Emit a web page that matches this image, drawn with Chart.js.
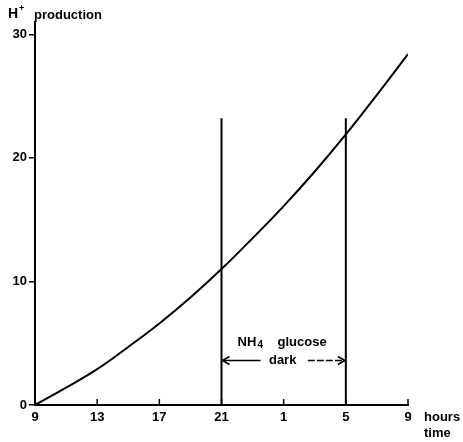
<!DOCTYPE html>
<html>
<head>
<meta charset="utf-8">
<script src="https://cdn.jsdelivr.net/npm/chart.js@4/dist/chart.umd.min.js"></script>
<style>
  html, body { margin: 0; padding: 0; background: #fff; }
  #wrap { width: 463px; height: 442px; }
</style>
</head>
<body>
<div id="wrap"><canvas id="chart-area" width="463" height="442"></canvas></div>
<script>
'use strict';

// hours elapsed since 9 o'clock, and the H+ production
const elapsed = [0, 2, 4, 6, 8, 10, 12, 14, 16, 18, 20, 22, 24];
const production = [0, 1.4, 2.9, 4.7, 6.6, 8.7, 11.0, 13.5, 16.1, 18.9, 21.9, 25.1, 28.4];
const hourLabels = ['9', '13', '17', '21', '1', '5', '9'];
const yTicks = [0, 10, 20, 30];
const markerHours = [12, 20];
const markerTop = 23.2;
const arrowLevel = 3.6;

const FONT = 'bold 13px "Liberation Sans", Arial, sans-serif';

var markerSets = markerHours.map((h) => ({
  data: [{x: h, y: 0}, {x: h, y: markerTop}],
  borderColor: '#000',
  borderWidth: 2,
  pointRadius: 0,
  tension: 0
}));

var extras = {
  id: 'extras',
  afterDatasetsDraw(chart) {
    const ctx = chart.ctx;
    const xs = chart.scales.x, ys = chart.scales.y;
    const y0 = ys.getPixelForValue(0);
    ctx.save();
    ctx.strokeStyle = '#000';
    ctx.fillStyle = '#000';
    // x ticks pointing up into the plot
    ctx.lineWidth = 1.5;
    for (const t of xs.ticks) {
      const px = xs.getPixelForValue(t.value);
      ctx.beginPath();
      ctx.moveTo(px, y0);
      ctx.lineTo(px, y0 - 6);
      ctx.stroke();
    }
    // arrows between the two markers
    const xl = xs.getPixelForValue(markerHours[0]);
    const xr = xs.getPixelForValue(markerHours[1]);
    const ya = ys.getPixelForValue(arrowLevel);
    ctx.lineWidth = 1.5;
    ctx.beginPath();
    ctx.moveTo(xl + 1, ya);
    ctx.lineTo(xl + 39, ya);
    ctx.stroke();
    ctx.beginPath();
    ctx.moveTo(xl + 1, ya);
    ctx.lineTo(xl + 8, ya - 4);
    ctx.moveTo(xl + 1, ya);
    ctx.lineTo(xl + 8, ya + 4);
    ctx.stroke();
    ctx.setLineDash([7, 2]);
    ctx.beginPath();
    ctx.moveTo(xr - 38, ya);
    ctx.lineTo(xr - 1, ya);
    ctx.stroke();
    ctx.setLineDash([]);
    ctx.beginPath();
    ctx.moveTo(xr - 1, ya);
    ctx.lineTo(xr - 8, ya - 4);
    ctx.moveTo(xr - 1, ya);
    ctx.lineTo(xr - 8, ya + 4);
    ctx.stroke();
    // texts
    ctx.font = FONT;
    ctx.textBaseline = 'middle';
    ctx.textAlign = 'left';
    ctx.fillText('NH', xl + 16, ya - 18);
    ctx.font = 'bold 10px "Liberation Sans", Arial, sans-serif';
    ctx.fillText('4', xl + 36, ya - 15);
    ctx.font = FONT;
    ctx.fillText('glucose', xl + 56, ya - 18);
    ctx.textAlign = 'center';
    ctx.fillText('dark', (xl + xr) / 2 - 1, ya);
    ctx.textAlign = 'left';
    ctx.font = 'bold 14px "Liberation Sans", Arial, sans-serif';
    ctx.fillText('H', 8, 14);
    ctx.font = 'bold 9px "Liberation Sans", Arial, sans-serif';
    ctx.fillText('+', 19, 9);
    ctx.font = FONT;
    ctx.fillText('production', 34, 15);
    ctx.fillText('hours', 424, 417);
    ctx.fillText('time', 424, 433);
    ctx.restore();
  }
};

var config = {
  type: 'line',
  data: {
    datasets: [{
      data: elapsed.map((t, i) => ({x: t, y: production[i]})),
      borderColor: '#000',
      borderWidth: 2,
      pointRadius: 0,
      tension: 0.4
    }].concat(markerSets)
  },
  options: {
    responsive: false,
    animation: false,
    events: [],
    layout: { padding: { top: 22, right: 55 } },
    plugins: { legend: { display: false }, tooltip: { enabled: false } },
    scales: {
      x: {
        type: 'linear',
        min: 0,
        max: 24,
        afterFit: (s) => { s.height = 37; },
        border: { display: true, color: '#000', width: 2 },
        grid: { drawOnChartArea: false, drawTicks: false },
        ticks: {
          stepSize: 4,
          padding: 5,
          color: '#000',
          font: { family: '"Liberation Sans", Arial, sans-serif', size: 13, weight: 'bold' },
          maxRotation: 0,
          callback: (v) => hourLabels[v / 4]
        }
      },
      y: {
        min: 0,
        max: 31,
        afterFit: (s) => { s.width = 35; },
        afterBuildTicks: (s) => { s.ticks = yTicks.map((v) => ({value: v})); },
        border: { display: true, color: '#000', width: 2 },
        grid: { drawOnChartArea: false, drawTicks: true, tickLength: 6, color: '#000', lineWidth: 1.5 },
        ticks: {
          padding: 2,
          color: '#000',
          font: { family: '"Liberation Sans", Arial, sans-serif', size: 13, weight: 'bold' }
        }
      }
    }
  },
  plugins: [extras]
};

window.onload = function() {
  var ctx = document.getElementById('chart-area').getContext('2d');
  window.myChart = new Chart(ctx, config);
};
</script>
</body>
</html>
